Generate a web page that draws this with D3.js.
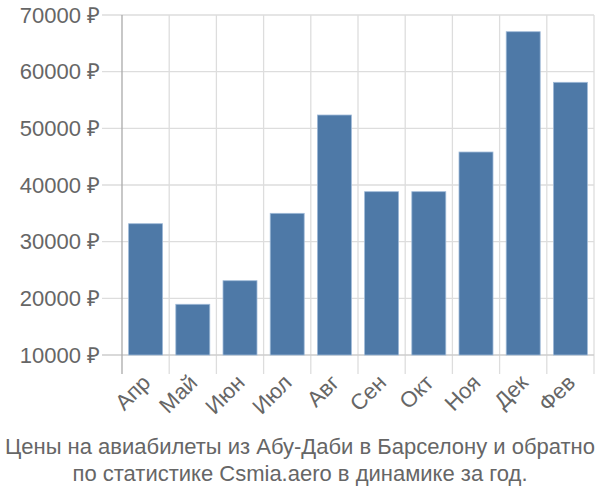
<!DOCTYPE html>
<html>
<head>
<meta charset="utf-8">
<script src="https://cdn.jsdelivr.net/npm/d3@7"></script>
<style>
  body { margin: 0; background: #fff; }
  text { font-family: "Liberation Sans", Arial, sans-serif; fill: #666; }
</style>
</head>
<body>
<div id="chart"></div>
<script>
// months and average prices (rubles)
var months = ["Апр", "Май", "Июн", "Июл", "Авг", "Сен", "Окт", "Ноя", "Дек", "Фев"];
var prices = [33170, 18950, 23110, 35000, 52350, 38820, 38820, 45820, 67050, 58120];
var yTicks = [10000, 20000, 30000, 40000, 50000, 60000, 70000];
var titleLines = ["Цены на авиабилеты из Абу-Даби в Барселону и обратно",
                  "по статистике Csmia.aero в динамике за год."];

var width = 600, height = 500;
var margin = {top: 15, right: 6, bottom: 145, left: 122};

var svg = d3.select("#chart").append("svg")
    .attr("width", width)
    .attr("height", height);

var x = d3.scaleBand()
    .domain(months)
    .range([margin.left, width - margin.right])
    .paddingInner(0.28)
    .paddingOuter(0.14);

var y = d3.scaleLinear()
    .domain([10000, 70000])
    .range([height - margin.bottom, margin.top]);

var step = x.step();
var gap = step - x.bandwidth();

// vertical grid lines at band boundaries, running down as ticks
var grid = svg.append("g");
months.forEach(function(m) {
    var gx = x(m) + x.bandwidth() + gap / 2;
    grid.append("line")
        .attr("x1", gx).attr("x2", gx)
        .attr("y1", margin.top).attr("y2", y(10000) + 19)
        .attr("stroke", "#ddd").attr("stroke-width", 1.3);
});

// horizontal grid lines
yTicks.forEach(function(t) {
    grid.append("line")
        .attr("x1", margin.left - 20).attr("x2", width - margin.right)
        .attr("y1", y(t)).attr("y2", y(t))
        .attr("stroke", t == 10000 ? "#ccc" : "#ddd").attr("stroke-width", 1.3);
});

// left axis line
svg.append("line")
    .attr("x1", margin.left).attr("x2", margin.left)
    .attr("y1", margin.top).attr("y2", y(10000) + 19)
    .attr("stroke", "#aaa").attr("stroke-width", 1.3);

// bars
svg.selectAll(".bar")
    .data(prices)
    .enter().append("rect")
    .attr("class", "bar")
    .attr("x", function(d, i) { return x(months[i]); })
    .attr("y", function(d) { return y(d); })
    .attr("width", x.bandwidth())
    .attr("height", function(d) { return y(10000) - y(d); })
    .attr("fill", "#4e79a7")
    .attr("stroke", "#9fbad8")
    .attr("stroke-width", 0.8);

// y tick labels
svg.selectAll(".ylabel")
    .data(yTicks)
    .enter().append("text")
    .attr("class", "ylabel")
    .attr("x", margin.left - 22)
    .attr("y", function(d) { return y(d); })
    .attr("dy", "0.35em")
    .attr("text-anchor", "end")
    .style("font-size", "22px")
    .text(function(d) { return d + " ₽"; });

// x tick labels, rotated
svg.selectAll(".xlabel")
    .data(months)
    .enter().append("text")
    .attr("class", "xlabel")
    .attr("text-anchor", "end")
    .style("font-size", "22px")
    .attr("transform", function(d) {
        var cx = x(d) + x.bandwidth() / 2 + 6;
        return "translate(" + cx + "," + (y(10000) + 29) + ") rotate(-45)";
    })
    .text(function(d) { return d; });

// title
svg.selectAll(".title")
    .data(titleLines)
    .enter().append("text")
    .attr("class", "title")
    .attr("x", width / 2)
    .attr("y", function(d, i) { return 454 + i * 27; })
    .attr("text-anchor", "middle")
    .style("font-size", "22px")
    .text(function(d) { return d; });
</script>
</body>
</html>
